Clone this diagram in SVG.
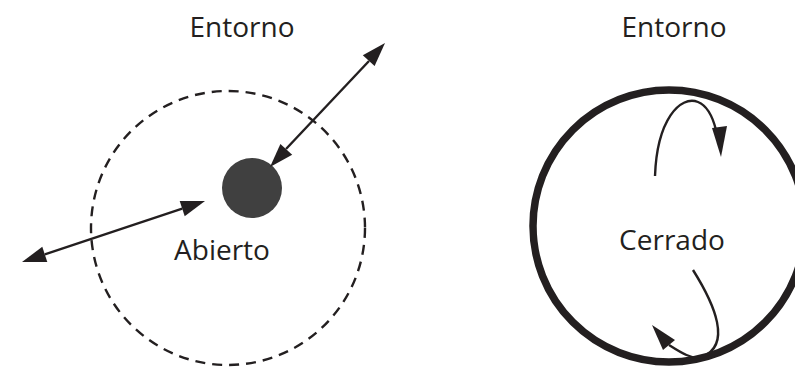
<svg xmlns="http://www.w3.org/2000/svg" width="795" height="367" viewBox="0 0 795 367">
<style>
.lbl{font-family:"Open Sans","Noto Sans","Liberation Sans",sans-serif;font-size:28px;fill:#231f20;text-anchor:middle}
.ln{fill:none;stroke:#231f20;stroke-width:2.4}
.hd{fill:#231f20;stroke:none}
</style>
<rect width="795" height="367" fill="#ffffff"/>
<g id="abierto">
<circle cx="228" cy="228" r="137" fill="none" stroke="#231f20" stroke-width="2.4" stroke-dasharray="10,7"/>
<circle cx="252" cy="188" r="30" fill="#404040"/>
<text class="lbl" x="222" y="260">Abierto</text>
</g>
<g id="entorno-izq"><text class="lbl" x="242" y="37">Entorno</text></g>
<g id="entorno-der"><text class="lbl" x="674" y="37">Entorno</text></g>
<g id="cerrado">
<circle cx="669" cy="226" r="136" fill="none" stroke="#231f20" stroke-width="7.5"/>
<text class="lbl" x="672" y="250">Cerrado</text>
</g>
<g id="connectors">
<line class="ln" x1="286" y1="149" x2="369" y2="61"/>
<polygon class="hd" points="385,43 374.6,66 362.8,55.2"/>
<polygon class="hd" points="270,167 292.2,154.8 280.4,144"/>
<line class="ln" x1="44.8" y1="254.4" x2="182.2" y2="208.6"/>
<polygon class="hd" points="205,201 184.7,216.2 179.7,201"/>
<polygon class="hd" points="22,262 47.3,262 42.3,246.8"/>
<path class="ln" d="M655,176 C657,120 680,95 698,102 C708,106 713,118 716,130"/>
<polygon class="hd" points="721,157 712,128 727,126"/>
<path class="ln" d="M693,270 C715,305 732,345 702,357 C692,360 680,352 669,345"/>
<polygon class="hd" points="652,325 675,340 663,350"/>
</g>
</svg>
